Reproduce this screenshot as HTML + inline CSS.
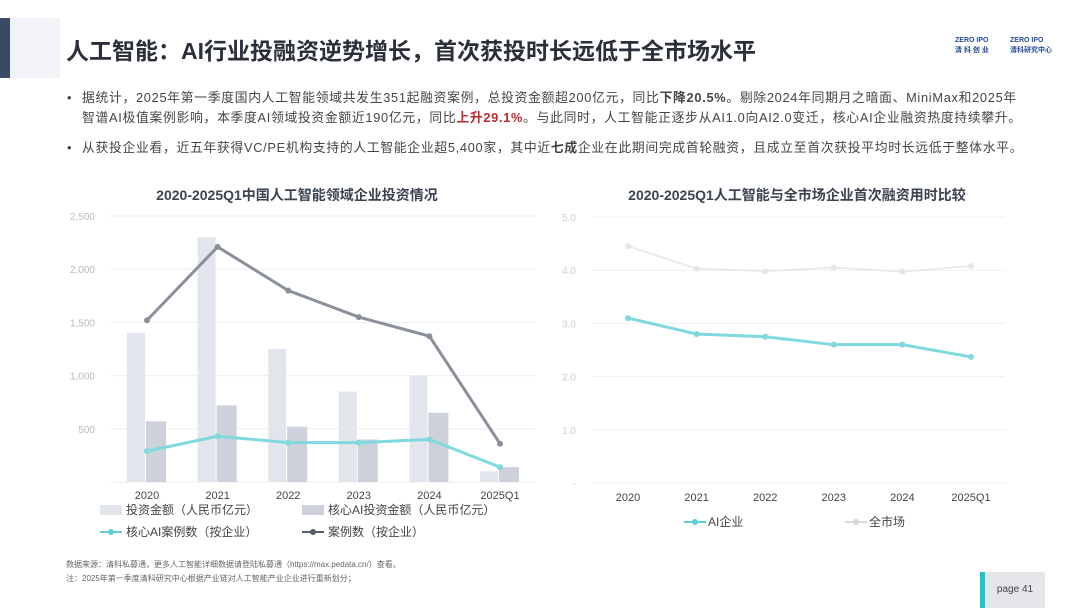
<!DOCTYPE html>
<html><head><meta charset="utf-8">
<style>
body{margin:0;width:1080px;height:608px;background:#fff;position:relative;overflow:hidden;font-family:"Liberation Sans","Noto Sans CJK SC",sans-serif;color:#333}
.abs{position:absolute}
.bul{font-size:12.8px;letter-spacing:0.7px;line-height:20px;color:#444;left:82px;width:960px;white-space:nowrap}
.bul span.dot{position:absolute;left:-15px}
svg text{font-family:"Liberation Sans","Noto Sans CJK SC",sans-serif}
</style></head><body>
<div class="abs" style="left:0;top:18px;width:10px;height:60px;background:#3a4a63"></div>
<div class="abs" style="left:10px;top:18px;width:50px;height:60px;background:#f2f3f6"></div>
<div class="abs" style="left:66px;top:32px;font-size:23px;font-weight:bold;color:#2a2f3a">人工智能：AI行业投融资逆势增长，首次获投时长远低于全市场水平</div>
<div class="abs" style="left:955px;top:36px;width:40px;height:22px;font-size:7px;color:#234a9a;font-weight:bold;line-height:10px">ZERO IPO<br>清 科 创 业</div>
<div class="abs" style="left:1010px;top:36px;width:45px;height:22px;font-size:7px;color:#234a9a;font-weight:bold;line-height:10px">ZERO IPO<br>清科研究中心</div>
<div class="abs bul" style="top:88px"><span class="dot">•</span>据统计，2025年第一季度国内人工智能领域共发生351起融资案例，总投资金额超200亿元，同比<b>下降20.5%</b>。剔除2024年同期月之暗面、MiniMax和2025年<br>智谱AI极值案例影响，本季度AI领域投资金额近190亿元，同比<b style="color:#c0262d">上升29.1%</b>。与此同时，人工智能正逐步从AI1.0向AI2.0变迁，核心AI企业融资热度持续攀升。</div>
<div class="abs bul" style="top:138px"><span class="dot">•</span>从获投企业看，近五年获得VC/PE机构支持的人工智能企业超5,400家，其中近<b>七成</b>企业在此期间完成首轮融资，且成立至首次获投平均时长远低于整体水平。</div>

<svg class="abs" style="left:0;top:0" width="1080" height="608" id="charts">
<text x="297" y="200" text-anchor="middle" font-size="14" font-weight="bold" fill="#3c4350">2020-2025Q1中国人工智能领域企业投资情况</text>
<text x="797" y="200" text-anchor="middle" font-size="14" font-weight="bold" fill="#3c4350">2020-2025Q1人工智能与全市场企业首次融资用时比较</text>
<g id="left"></g><g id="right"></g>
</svg>

<div class="abs" style="left:66px;top:558px;font-size:8px;color:#666;line-height:14px">数据来源：清科私募通，更多人工智能详细数据请登陆私募通（https://max.pedata.cn/）查看。<br>注：2025年第一季度清科研究中心根据产业链对人工智能产业企业进行重新划分；</div>
<div class="abs" style="left:980px;top:572px;width:60px;height:36px;background:#e4e6ea;border-left:5px solid #1fc4cc;font-size:10px;color:#444;line-height:36px;text-align:center">page 41</div>

<script>
const categories=["2020","2021","2022","2023","2024","2025Q1"];
const totalInvest=[1400,2300,1250,850,1000,100];
const coreInvest=[570,720,520,400,650,140];
const coreCases=[290,430,370,370,400,140];
const allCases=[1520,2210,1800,1550,1370,360];
const leftTicks=["","500","1,000","1,500","2,000","2,500"];
const aiTime=[3.1,2.8,2.75,2.6,2.6,2.37];
const marketTime=[4.45,4.03,3.98,4.05,3.97,4.08];
const rightTicks=["-","1.0","2.0","3.0","4.0","5.0"];
const NS="http://www.w3.org/2000/svg";
function mk(p,t,a){const e=document.createElementNS(NS,t);for(const k in a)e.setAttribute(k,a[k]);p.appendChild(e);return e;}
const L=document.getElementById('left');
const lx=i=>147+i*70.6, ly=v=>482-v/2500*266;
leftTicks.forEach((t,i)=>{const v=i*500;
 const g=mk(L,'line',{x1:110,x2:535,y1:ly(v),y2:ly(v),stroke:'#eee'});
 
 const tx=mk(L,'text',{x:95,y:ly(v)+4,'text-anchor':'end','font-size':10,fill:'#bbb'});tx.textContent=t;
 });
categories.forEach((c,i)=>{
 const b1=mk(L,'rect',{x:lx(i)-20,y:ly(totalInvest[i]),width:18,height:482-ly(totalInvest[i]),fill:'#e3e5ec'});
 
 const b2=mk(L,'rect',{x:lx(i)-1,y:ly(coreInvest[i]),width:20,height:482-ly(coreInvest[i]),fill:'#cdd1dc'});
 
 const t=mk(L,'text',{x:lx(i),y:499,'text-anchor':'middle','font-size':11,fill:'#444'});t.textContent=c;
 });
function line(P,data,xf,yf,col,w,name){
 const pl=mk(P,'polyline',{points:data.map((v,i)=>xf(i)+','+yf(v)).join(' '),fill:'none',stroke:col,'stroke-width':w});
 
 data.forEach((v,i)=>{const c=mk(P,'circle',{cx:xf(i),cy:yf(v),r:3,fill:col});
 });}
line(L,allCases,lx,ly,'#8a8f9c',3,'all-cases');
line(L,coreCases,lx,ly,'#7fd9de',3,'core-ai-cases');
const legL=[[100,510,'rect','#e3e5ec','投资金额（人民币亿元）','legend-total-invest'],[302,510,'rect','#cdd1dc','核心AI投资金额（人民币亿元）','legend-core-invest'],[100,532,'line','#5fd0d6','核心AI案例数（按企业）','legend-core-cases'],[302,532,'line','#555c6a','案例数（按企业）','legend-all-cases']];
legL.forEach(([x,y,t,c,s,n])=>{
 const g=mk(L,'g',{});
 if(t==='rect')mk(g,'rect',{x:x,y:y-5,width:22,height:10,fill:c});
 else{mk(g,'line',{x1:x,x2:x+22,y1:y,y2:y,stroke:c,'stroke-width':2});mk(g,'circle',{cx:x+11,cy:y,r:3,fill:c});}
 const tx=mk(g,'text',{x:x+26,y:y+4,'font-size':12,fill:'#444'});tx.textContent=s;});
const R=document.getElementById('right');
const rx=i=>628+i*68.6, ry=v=>483-v*53.2;
rightTicks.forEach((t,i)=>{
 const g=mk(R,'line',{x1:592,x2:1005,y1:ry(i),y2:ry(i),stroke:'#f0f0f0'});
 
 const tx=mk(R,'text',{x:576,y:ry(i)+4,'text-anchor':'end','font-size':10,fill:'#ccc'});tx.textContent=t;
 });
categories.forEach((c,i)=>{const t=mk(R,'text',{x:rx(i),y:501,'text-anchor':'middle','font-size':11,fill:'#444'});t.textContent=c;
 });
line(R,marketTime,rx,ry,'#e6e6e6',1.5,'market-time');
line(R,aiTime,rx,ry,'#7fd9de',3,'ai-time');
[[684,522,'#5fd0d6','AI企业','legend-ai'],[845,522,'#d8d8d8','全市场','legend-market']].forEach(([x,y,c,s,n])=>{
 const g=mk(R,'g',{});
 mk(g,'line',{x1:x,x2:x+22,y1:y,y2:y,stroke:c,'stroke-width':2});mk(g,'circle',{cx:x+11,cy:y,r:3,fill:c});
 const tx=mk(g,'text',{x:x+24,y:y+4,'font-size':12,fill:'#444'});tx.textContent=s;});
</script>
</body></html>
